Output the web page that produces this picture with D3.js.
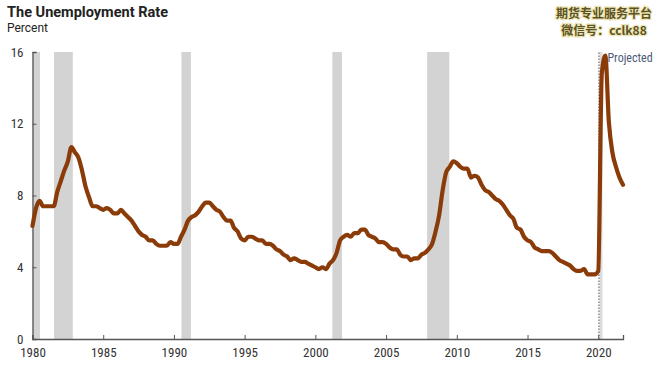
<!DOCTYPE html>
<html>
<head>
<meta charset="utf-8">
<script src="https://cdn.jsdelivr.net/npm/d3@7"></script>
<style>
  body { margin: 0; background: #fff; }
  svg { display: block; }
</style>
</head>
<body>
<div id="chart"></div>
<script>
// quarterly unemployment rate, 1980Q1 onward (actual through 2020Q1, then projection)
const startYear = 1980;
const rates = [
  6.3, 7.3, 7.7, 7.4,   7.4, 7.4, 7.4, 8.2,   8.8, 9.4, 9.9, 10.7,  10.4, 10.1, 9.4, 8.5,
  7.9, 7.4, 7.4, 7.3,   7.2, 7.3, 7.2, 7.0,   7.0, 7.2, 7.0, 6.8,   6.6, 6.3, 6.0, 5.8,
  5.7, 5.5, 5.5, 5.3,   5.2, 5.2, 5.2, 5.4,   5.3, 5.3, 5.7, 6.1,   6.6, 6.8, 6.9, 7.1,
  7.4, 7.6, 7.6, 7.4,   7.2, 7.1, 6.8, 6.6,   6.6, 6.2, 6.0, 5.6,   5.5, 5.7, 5.7, 5.6,
  5.5, 5.5, 5.3, 5.3,   5.2, 5.0, 4.9, 4.7,   4.6, 4.4, 4.5, 4.4,   4.3, 4.3, 4.2, 4.1,
  4.0, 3.9, 4.0, 3.9,   4.2, 4.4, 4.8, 5.5,   5.7, 5.8, 5.7, 5.9,   5.9, 6.1, 6.1, 5.8,
  5.7, 5.6, 5.4, 5.4,   5.3, 5.1, 5.0, 5.0,   4.7, 4.6, 4.6, 4.4,   4.5, 4.5, 4.7, 4.8,
  5.0, 5.3, 6.0, 6.9,   8.3, 9.3, 9.6, 9.9,   9.8, 9.6, 9.5, 9.5,   9.0, 9.1, 9.0, 8.6,
  8.3, 8.2, 8.0, 7.8,   7.7, 7.5, 7.2, 6.9,   6.7, 6.2, 6.1, 5.7,   5.5, 5.4, 5.1, 5.0,
  4.9, 4.9, 4.9, 4.8,   4.6, 4.4, 4.3, 4.2,   4.1, 3.9, 3.8, 3.8,   3.9, 3.6, 3.6, 3.6,
  3.8, 14.8, 15.8, 12.1, 10.4, 9.6, 9.0, 8.6
];
const projectionStart = 2020.05;

// recessions (decimal years)
const recessionStart = [1980.0, 1981.52, 1990.53, 2001.2, 2007.9, 2020.08];
const recessionEnd   = [1980.53, 1982.85, 1991.2, 2001.88, 2009.47, 2020.35];

const yTicks = [0, 4, 8, 12, 16];
const xTicks = [1980, 1985, 1990, 1995, 2000, 2005, 2010, 2015, 2020];

const title = "The Unemployment Rate";
const subtitle = "Percent";

let width = 666, height = 372;
let margin = {top: 52, right: 43, bottom: 33, left: 32.5};

let svg = d3.select("#chart").append("svg")
	.attr("width", width)
	.attr("height", height);

let defs = svg.append("defs");
let grad = defs.append("linearGradient")
	.attr("id", "covidShade")
	.attr("x1", "0%").attr("x2", "100%");
grad.append("stop").attr("offset", "0%").attr("stop-color", "#e6e6e6");
grad.append("stop").attr("offset", "45%").attr("stop-color", "#d4d4d4");
grad.append("stop").attr("offset", "100%").attr("stop-color", "#fbfbfb");

let x = d3.scaleLinear()
	.domain([1980, 2021.75])
	.range([margin.left, width - margin.right]);

let y = d3.scaleLinear()
	.domain([0, 16])
	.range([height - margin.bottom, margin.top]);

let font = "'Liberation Sans Narrow', 'Roboto Condensed', 'Arial Narrow', Roboto, sans-serif";
let titleFont = "Roboto, 'Liberation Sans', sans-serif";

// recession shading
let recs = recessionStart.map((s, i) => [s, recessionEnd[i]]);
svg.append("g").selectAll("rect")
	.data(recs)
	.join("rect")
	.attr("x", d => x(d[0]))
	.attr("width", d => x(d[1]) - x(d[0]))
	.attr("y", y(16))
	.attr("height", y(0) - y(16))
	.attr("fill", (d, i) => i == recs.length - 1 ? "url(#covidShade)" : "#d3d3d3");

// projection marker
svg.append("line")
	.attr("x1", x(projectionStart)).attr("x2", x(projectionStart))
	.attr("y1", y(0)).attr("y2", y(16))
	.attr("stroke", "#555")
	.attr("stroke-width", 1)
	.attr("stroke-dasharray", "1.5,1.5");

// axes
let xAxis = d3.axisBottom(x)
	.tickValues(xTicks)
	.tickFormat(d3.format("d"))
	.tickSize(-4)
	.tickPadding(9);

let gx = svg.append("g")
	.attr("transform", `translate(0,${y(0)})`)
	.call(xAxis);
gx.select(".domain").attr("stroke", "#555").attr("stroke-width", 1.3);
gx.selectAll(".tick line").attr("stroke", "#555");
gx.selectAll("text")
	.attr("fill", "#333")
	.style("font-family", font)
	.style("font-size", "13px");

let yAxis = d3.axisLeft(y)
	.tickValues(yTicks)
	.tickSize(-4)
	.tickPadding(9);

let gy = svg.append("g")
	.attr("transform", `translate(${margin.left},0)`)
	.call(yAxis);
gy.select(".domain").attr("stroke", "#555").attr("stroke-width", 1.3);
gy.selectAll(".tick line").attr("stroke", "#555");
gy.selectAll("text")
	.attr("fill", "#333")
	.style("font-family", font)
	.style("font-size", "13px");

// the line
let points = rates.map((r, i) => [startYear + i / 4, r]);
let line = d3.line()
	.x(d => x(d[0]))
	.y(d => y(d[1]))
	.curve(d3.curveMonotoneX);

svg.append("path")
	.datum(points)
	.attr("fill", "none")
	.attr("stroke", "#8a3b08")
	.attr("stroke-width", 4.2)
	.attr("stroke-linejoin", "round")
	.attr("stroke-linecap", "round")
	.attr("d", line);

svg.append("text")
	.attr("x", x(2020.65))
	.attr("y", 62)
	.attr("fill", "#4d5a78")
	.style("font-family", font)
	.style("font-size", "12px")
	.text("Projected");

// titles
svg.append("text")
	.attr("x", 7)
	.attr("y", 17)
	.attr("fill", "#222")
	.style("font-family", titleFont)
	.style("font-weight", "bold")
	.style("font-size", "14px")
	.attr("textLength", 161)
	.attr("lengthAdjust", "spacingAndGlyphs")
	.text(title);

svg.append("text")
	.attr("x", 7)
	.attr("y", 32)
	.attr("fill", "#222")
	.style("font-family", titleFont)
	.style("font-size", "12px")
	.text(subtitle);

// watermark
let wm = svg.append("g")
	.style("font-family", "'Noto Sans CJK SC', sans-serif")
	.style("font-weight", "bold")
	.style("font-size", "12px")
	.attr("text-anchor", "middle");
[["期货专业服务平台", 18], ["微信号：cclk88", 35]].forEach(d => {
	wm.append("text")
		.attr("x", 604)
		.attr("y", d[1])
		.attr("fill", "#5e5220")
		.attr("stroke", "#ece6b8")
		.attr("stroke-width", 2.5)
		.attr("paint-order", "stroke")
		.text(d[0]);
});
</script>
</body>
</html>
